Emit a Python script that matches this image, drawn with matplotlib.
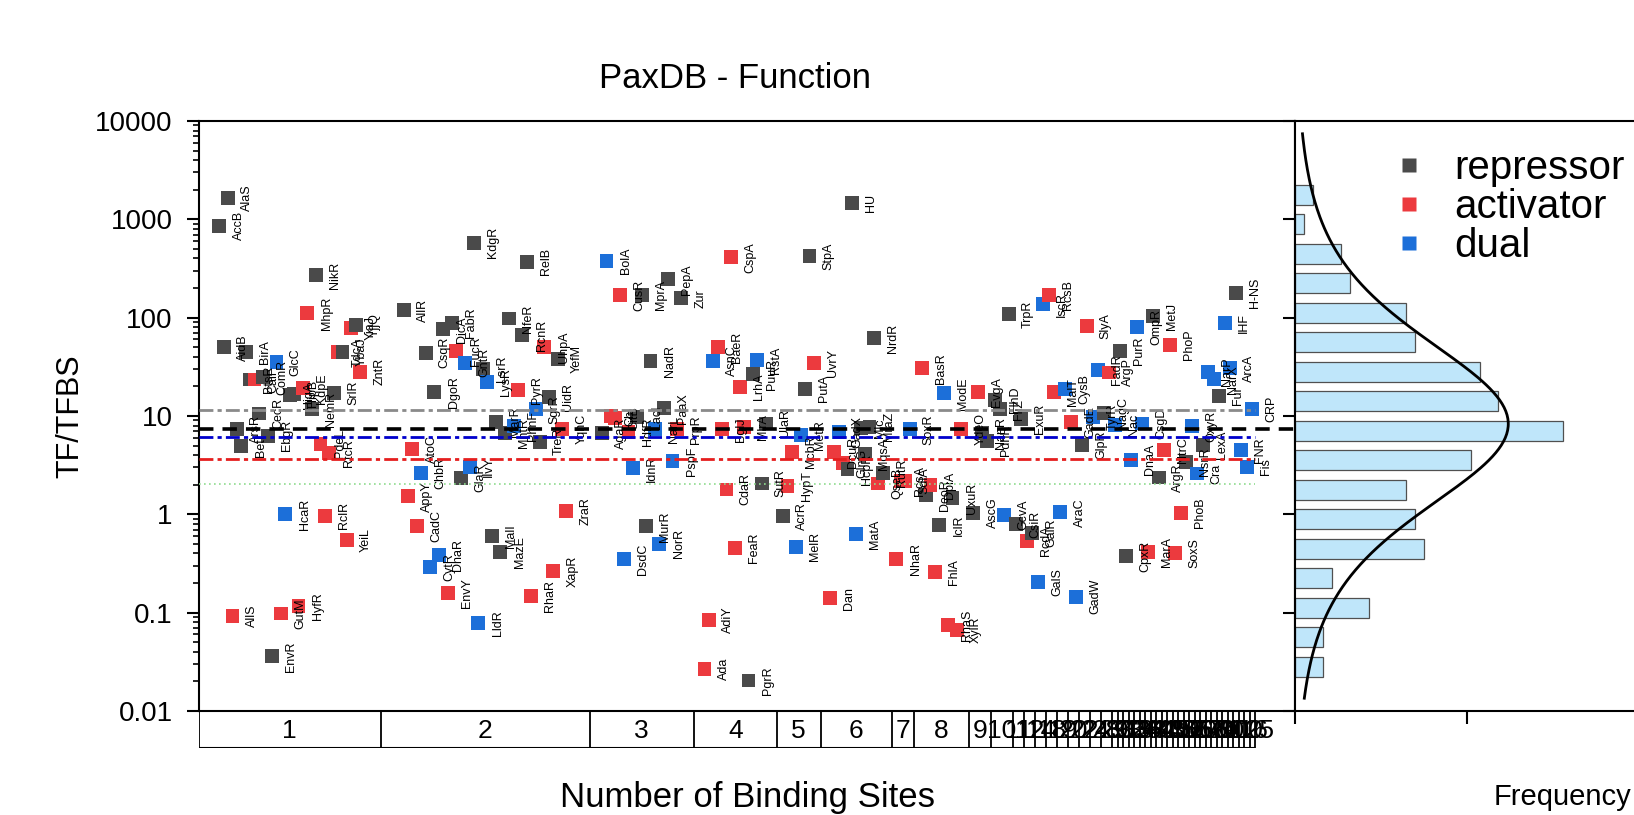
import numpy as np
import matplotlib
matplotlib.use('Agg')
import matplotlib.pyplot as plt
from matplotlib.lines import Line2D

plt.rcParams['font.family'] = ['Liberation Sans', 'DejaVu Sans']

# ---------------- data ----------------
# number of binding sites (x categories) and how many TFs fall in each
site_labels = ['1', '2', '3', '4', '5', '6', '7', '8', '9', '10', '11', '12', '14', '18',
               '19', '20', '22', '24', '28', '29', '30', '31', '32', '33', '34', '36', '38',
               '40', '41', '43', '45', '48', '50', '52', '55', '60', '62', '66', '70', '74',
               '80', '90', '100', '116', '125']
site_counts = [33, 38, 19, 15, 8, 13, 4, 10, 4, 4, 2, 2, 2, 2,
               2, 2, 2, 2, 2, 1, 1, 1, 1, 1, 1, 1, 1,
               1, 1, 1, 1, 1, 1, 1, 1, 1, 1, 1, 1, 1,
               1, 1, 1, 1, 1]

# TFs in plotting order (alphabetical inside each category)
tf_names = [
    # 1
    'AccB', 'AidB', 'AlaS', 'AllS', 'ArsR', 'BetI', 'BirA', 'BtsR', 'CaiF', 'CecR', 'ComR',
    'EbgR', 'EnvR', 'GlcC', 'GutM', 'HcaR', 'HigA', 'HipB', 'HyfR', 'KdpE', 'MhpR', 'NemR',
    'NikR', 'PdeL', 'RclR', 'RtcR', 'SrlR', 'TdcA', 'YbaJ', 'YeiL', 'YiaJ', 'YjjQ', 'ZntR',
    # 2
    'AllR', 'AppY', 'AtoC', 'CadC', 'ChbR', 'CsqR', 'CytR', 'DgoR', 'DhaR', 'DicA', 'EnvY',
    'FabR', 'FucR', 'GlaR', 'GntR', 'IlvY', 'KdgR', 'LldR', 'LsrR', 'LysR', 'MalI', 'MarR',
    'MazE', 'MntR', 'NfeR', 'PhnF', 'PyrR', 'RcnR', 'RelB', 'RhaR', 'SgrR', 'TreR', 'UhpA',
    'UidR', 'XapR', 'YefM', 'YqhC', 'ZraR',
    # 3
    'AgaR', 'BolA', 'Cbl', 'CitB', 'CusR', 'DsdC', 'HdfR', 'IdnR', 'LacI', 'MprA', 'MurR',
    'NadR', 'NarL', 'NorR', 'PaaX', 'PepA', 'PspF', 'PrpR', 'Zur',
    # 4
    'Ada', 'AdiY', 'AsnC', 'BaeR', 'BglJ', 'CdaR', 'CspA', 'FeaR', 'LrhA', 'MlrA', 'PgrR',
    'PuuR', 'RstA', 'SutR', 'UlaR',
    # 5
    'AcrR', 'HypT', 'McbR', 'MelR', 'MetR', 'PutA', 'StpA', 'UvrY',
    # 6
    'Dan', 'DcuR', 'GadX', 'GlnG', 'HcpR', 'HU', 'MatA', 'Mlc', 'MqsA', 'MraZ', 'NrdR',
    'QseB', 'RutR',
    # 7
    'NhaR', 'RcsA', 'SdiA', 'SoxR',
    # 8
    'BasR', 'DeoR', 'DpiA', 'FhlA', 'IclR', 'ModE', 'RhaS', 'UxuR', 'XylR', 'YdeO',
    # 9
    'AscG', 'EvgA', 'NanR', 'PdhR',
    # 10 and more
    'FlhD', 'FliZ', 'GcvA', 'TrpR', 'CsiR', 'ExuR', 'RcdA', 'GalR', 'GalS', 'IscR',
    'RcsB', 'MalT', 'AraC', 'CysB', 'GadE', 'GadW', 'GlpR', 'SlyA', 'TyrR', 'FadR',
    'NagC', 'ArgP', 'Nac', 'PurR', 'CpxR', 'DnaA', 'OmpR', 'CsgD', 'MarA', 'MetJ',
    'ArgR', 'NtrC', 'PhoP', 'SoxS', 'PhoB', 'NsrR', 'OxyR', 'Cra', 'LexA', 'NarP',
    'NarX', 'Fur', 'IHF', 'ArcA', 'H-NS', 'FNR', 'Fis', 'CRP',
]

# r = repressor, a = activator, d = dual
tf_kind = (
    'r r r a r r r r a r r r r d a d r r a a a r r a a a r a r a a r a '
    'r a a a d r d r d r a r a r d d r d r d r r r r r d a r r a d r a r a r a a '
    'r d a a a d a d r r r r d d r r d a r '
    'a a d a a a a a a a r r d r r '
    'r a a d d r r a '
    'a a d a r r d r r r r a r '
    'a a a d '
    'a r a a r d a r a a '
    'r a r r '
    'r r d r r r a r d d a a d d a d r a d d '
    'r a d r r d d d a r r a a a a r d d r d d r d d r d d d'
).split()

tf_ratio = [
    # 1
    860, 50, 1650, 0.092, 7.3, 5.0, 45, 23.5, 23.5, 10.6, 24.7,
    6.3, 0.036, 35.6, 0.098, 1.0, 16.3, 16.8, 0.117, 19.1, 111, 11.7,
    271, 5.2, 0.97, 4.2, 17.2, 44.5, 45, 0.55, 78, 85, 28.2,
    # 2
    119, 1.53, 4.65, 0.76, 2.64, 44, 0.29, 17.6, 0.385, 76, 0.16,
    89, 46, 2.35, 34.8, 3.04, 578, 0.078, 30, 22.4, 0.6, 8.7,
    0.41, 6.65, 98, 7.9, 18.2, 66, 370, 0.147, 11.7, 5.46, 49.8,
    15.6, 0.264, 37.7, 7.4, 1.07,
    # 3
    6.65, 377, 9.95, 9.6, 170, 0.35, 6.9, 2.93, 9.8, 170, 0.755,
    36.5, 7.3, 0.5, 12, 246, 3.5, 7.3, 157,
    # 4
    0.027, 0.085, 36.5, 49.8, 7.3, 1.79, 410, 0.457, 19.8, 7.8, 0.0204,
    26.7, 37, 2.06, 8.4,
    # 5
    0.96, 1.94, 4.3, 0.468, 6.4, 19, 425, 34.3,
    # 6
    0.14, 4.3, 6.9, 3.3, 2.87, 1455, 0.63, 7.5, 4.1, 7.8, 61.5,
    2.06, 2.64,
    # 7
    0.35, 2.2, 2.2, 7.3,
    # 8
    30.5, 1.57, 1.98, 0.26, 0.78, 17, 0.075, 1.47, 0.067, 7.3,
    # 9
    1.03, 17.6, 6.65, 5.6,
    # 10 and more
    14.5, 11.7, 0.98, 108, 0.79, 9.4, 0.54, 0.65, 0.206, 137,
    170, 17.6, 1.05, 19, 8.7, 0.145, 5.1, 82, 9.8, 29.3,
    10.8, 27.7, 8.1, 46, 0.376, 3.6, 81, 8.4, 0.415, 104,
    2.37, 4.5, 52.6, 0.405, 1.03, 3.42, 7.9, 2.6, 5.1, 28,
    23.6, 16, 87.5, 30.5, 179, 4.5, 3.04, 11.7,
]

# reference lines (median TF/TFBS)
median_repressor = 11.5
median_all = 7.3
median_dual = 6.15
median_activator = 3.67
median_low = 2.03

# histogram of log10(TF/TFBS)
hist_log_center = [3.25, 2.95, 2.65, 2.35, 2.05, 1.75, 1.45, 1.15, 0.85, 0.55,
                   0.25, -0.05, -0.35, -0.65, -0.95, -1.25, -1.55]
hist_count = [2, 1, 5, 6, 12, 13, 20, 22, 29, 19, 12, 13, 14, 4, 8, 3, 3]
fit_center, fit_scale, fit_dof, fit_peak = 0.92, 0.92, 5.0, 12.4

kind_color = {'r': '#4a4a4a', 'a': '#ec3a3e', 'd': '#1c6fd9'}
kind_label = {'r': 'repressor', 'a': 'activator', 'd': 'dual'}

# ---------------- positions ----------------
starts = np.concatenate([[0], np.cumsum(site_counts)[:-1]])
xpos = []
for s, n in zip(starts, site_counts):
    for i in range(n):
        xpos.append(s + 0.1 * n + 0.8 * (i + 0.5))
xpos = np.array(xpos)
x_end = float(np.sum(site_counts))
unit_px = 5.5

W, H = 1634, 815
L, R, B, T = 199, 1295, 711, 121
fig = plt.figure(figsize=(W / 100, H / 100), dpi=100)

ax = fig.add_axes([L / W, 1 - B / H, (R - L) / W, (B - T) / H])
ax.set_yscale('log')
ax.set_ylim(0.01, 10000)
ax.set_xlim(0, (R - L) / unit_px)

cols = [kind_color[k] for k in tf_kind]
ax.scatter(xpos, tf_ratio, marker='s', s=100, c=cols, linewidths=0, zorder=3)
for x, y, name in zip(xpos, tf_ratio, tf_names):
    ax.annotate(name, (x, y), xytext=(9.5, 0), textcoords='offset points',
                rotation=90, ha='left', va='center', fontsize=9, color='black', zorder=4)

ax.hlines(median_repressor, 0, x_end, colors='#8a8a8a', linestyles=(0, (5, 1.5, 1.5, 1.5)), lw=2, zorder=5)
ax.axhline(median_all, color='black', ls=(0, (4, 2.5)), lw=2.6, zorder=5)
ax.hlines(median_dual, 0, x_end, colors='#0000cc', linestyles=(0, (5, 1.5, 1.5, 1.5)), lw=2, zorder=5)
ax.hlines(median_activator, 0, x_end, colors='#e51e1e', linestyles=(0, (5, 1.5, 1.5, 1.5)), lw=2, zorder=5)
ax.hlines(median_low, 0, x_end, colors='#8fdc8f', linestyles=(0, (1, 2)), lw=1.2, zorder=5)

ax.set_xticks([])
ax.tick_params(axis='y', which='major', direction='out', length=9, width=1.5, labelsize=20, pad=10)
ax.tick_params(axis='y', which='minor', direction='out', length=4.5, width=1.2)
ax.set_yticks([0.01, 0.1, 1, 10, 100, 1000, 10000])
ax.set_yticklabels(['0.01', '0.1', '1', '10', '100', '1000', '10000'])
for sp in ax.spines.values():
    sp.set_linewidth(1.5)
ax.set_ylabel('TF/TFBS', fontsize=22, labelpad=7)

# category strip below the axis
axt = fig.add_axes([L / W, 1 - 748 / H, (R - L) / W, (748 - B) / H])
axt.set_xlim(ax.get_xlim())
axt.set_ylim(0, 1)
axt.axis('off')
bounds = np.concatenate([[0], np.cumsum(site_counts)])
axt.vlines(bounds, 0, 1, colors='black', lw=1.3)
axt.hlines(0, 0, x_end, colors='black', lw=1.5)
for s, n, lab in zip(starts, site_counts, site_labels):
    axt.text(s + n / 2, 0.47, lab, ha='center', va='center', fontsize=19)
fig.text((L + R) / 2 / W, 1 - 797 / H, 'Number of Binding Sites', ha='center', va='center', fontsize=25)
fig.text(735 / W, 1 - 88 / H, 'PaxDB - Function', ha='center', va='baseline', fontsize=25)

# histogram panel
axh = fig.add_axes([R / W, 1 - B / H, (W - R) / W, (B - T) / H])
axh.set_ylim(-2, 4)
axh.set_xlim(0, (W - R) / 17.2)
freq = np.array(hist_count) / np.sum(hist_count) * 100
axh.barh(hist_log_center, freq, height=0.205, color='#bfe6fa', edgecolor='#505050', lw=0.9)
yy = np.linspace(-1.87, 3.87, 300)
curve = fit_peak * (1 + ((yy - fit_center) / fit_scale) ** 2 / fit_dof) ** (-(fit_dof + 1) / 2)
axh.plot(curve, yy, color='black', lw=2)
axh.spines['right'].set_visible(False)
for sp in ['left', 'top', 'bottom']:
    axh.spines[sp].set_linewidth(1.5)
axh.set_yticks(range(-2, 5))
axh.set_xticks([0, 10])
axh.tick_params(direction='out', length=9, width=1.5, labelleft=False, labelbottom=False)
fig.text(1563 / W, 1 - 797 / H, 'Frequency', ha='center', va='center', fontsize=21)

handles = [Line2D([], [], ls='none', marker='s', ms=10, mec='none', mfc=kind_color[k]) for k in 'rad']
axh.legend(handles, [kind_label[k] for k in 'rad'], loc='upper left',
           bbox_to_anchor=(0.241, 0.953), frameon=False, fontsize=29,
           handlelength=1.6, handletextpad=0.32, labelspacing=0.03, borderpad=0, borderaxespad=0)

fig.savefig('out.png', dpi=100)
